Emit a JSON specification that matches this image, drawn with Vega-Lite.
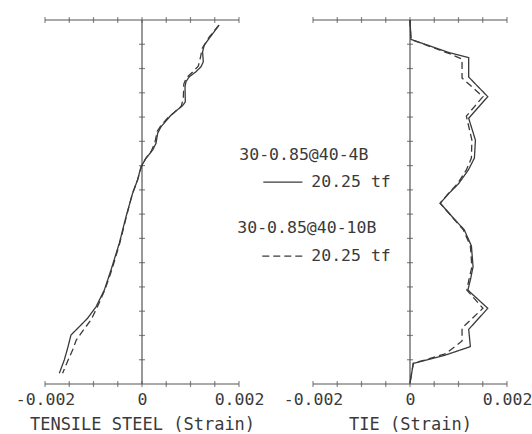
{
  "$schema": "https://vega.github.io/schema/vega-lite/v6.json",
  "padding": {"left": 15, "top": 17, "right": 5, "bottom": 5},
  "spacing": 74,
  "bounds": "flush",
  "config": {
    "view": {"stroke": null},
    "font": "DejaVu Sans Mono",
    "scale": {"continuousPadding": 0},
    "axis": {
      "domain": false, "ticks": false, "grid": false, "labelFlush": false,
      "labelFont": "DejaVu Sans Mono", "labelFontSize": 16.5, "labelColor": "#3a3a3a",
      "labelPadding": 7,
      "titleFont": "DejaVu Sans Mono", "titleFontSize": 17, "titleFontWeight": "normal", "titleColor": "#3a3a3a",
      "titlePadding": 9
    }
  },
  "datasets": {
    "one": [{}],
    "frame": [
      {"x": -0.002, "x2": 0.002, "y": 0, "y2": 0},
      {"x": -0.002, "x2": 0.002, "y": 15, "y2": 15},
      {"x": 0, "x2": 0, "y": 0, "y2": 15}
    ],
    "xticks": [
      {"x": -0.002, "y": 0}, {"x": -0.0015, "y": 0}, {"x": -0.001, "y": 0}, {"x": -0.0005, "y": 0}, {"x": 0, "y": 0},
      {"x": 0.0005, "y": 0}, {"x": 0.001, "y": 0}, {"x": 0.0015, "y": 0}, {"x": 0.002, "y": 0},
      {"x": -0.002, "y": 15}, {"x": -0.0015, "y": 15}, {"x": -0.001, "y": 15}, {"x": -0.0005, "y": 15}, {"x": 0, "y": 15},
      {"x": 0.0005, "y": 15}, {"x": 0.001, "y": 15}, {"x": 0.0015, "y": 15}, {"x": 0.002, "y": 15}
    ],
    "yticks": [
      {"x": 0, "y": 1}, {"x": 0, "y": 2}, {"x": 0, "y": 3}, {"x": 0, "y": 4}, {"x": 0, "y": 5},
      {"x": 0, "y": 6}, {"x": 0, "y": 7}, {"x": 0, "y": 8}, {"x": 0, "y": 9}, {"x": 0, "y": 10},
      {"x": 0, "y": 11}, {"x": 0, "y": 12}, {"x": 0, "y": 13}, {"x": 0, "y": 14}
    ],
    "steel": [
      {"series": "4B", "i": 1, "strain": 0.001588, "pos": 14.79},
      {"series": "4B", "i": 2, "strain": 0.001285, "pos": 13.97},
      {"series": "4B", "i": 3, "strain": 0.001249, "pos": 13.69},
      {"series": "4B", "i": 4, "strain": 0.001264, "pos": 13.28},
      {"series": "4B", "i": 5, "strain": 0.001216, "pos": 13.07},
      {"series": "4B", "i": 6, "strain": 0.001113, "pos": 12.87},
      {"series": "4B", "i": 7, "strain": 0.000975, "pos": 12.66},
      {"series": "4B", "i": 8, "strain": 0.000907, "pos": 12.46},
      {"series": "4B", "i": 9, "strain": 0.000887, "pos": 12.25},
      {"series": "4B", "i": 10, "strain": 0.000893, "pos": 11.63},
      {"series": "4B", "i": 11, "strain": 0.000837, "pos": 11.47},
      {"series": "4B", "i": 12, "strain": 0.000701, "pos": 11.25},
      {"series": "4B", "i": 13, "strain": 0.000598, "pos": 11.08},
      {"series": "4B", "i": 14, "strain": 0.000495, "pos": 10.84},
      {"series": "4B", "i": 15, "strain": 0.000392, "pos": 10.60},
      {"series": "4B", "i": 16, "strain": 0.000322, "pos": 10.33},
      {"series": "4B", "i": 17, "strain": 0.000289, "pos": 9.92},
      {"series": "4B", "i": 18, "strain": 0.000219, "pos": 9.64},
      {"series": "4B", "i": 19, "strain": 0.000082, "pos": 9.30},
      {"series": "4B", "i": 20, "strain": -0.000021, "pos": 8.95},
      {"series": "4B", "i": 21, "strain": -0.000091, "pos": 8.41},
      {"series": "4B", "i": 22, "strain": -0.000194, "pos": 7.86},
      {"series": "4B", "i": 23, "strain": -0.000330, "pos": 6.89},
      {"series": "4B", "i": 24, "strain": -0.000468, "pos": 5.80},
      {"series": "4B", "i": 25, "strain": -0.000639, "pos": 4.70},
      {"series": "4B", "i": 26, "strain": -0.000777, "pos": 3.87},
      {"series": "4B", "i": 27, "strain": -0.000948, "pos": 3.18},
      {"series": "4B", "i": 28, "strain": -0.001122, "pos": 2.71},
      {"series": "4B", "i": 29, "strain": -0.001293, "pos": 2.36},
      {"series": "4B", "i": 30, "strain": -0.001464, "pos": 2.02},
      {"series": "4B", "i": 31, "strain": -0.001534, "pos": 1.47},
      {"series": "4B", "i": 32, "strain": -0.001602, "pos": 0.99},
      {"series": "4B", "i": 33, "strain": -0.001705, "pos": 0.44},
      {"series": "10B", "i": 1, "strain": 0.001588, "pos": 14.79},
      {"series": "10B", "i": 2, "strain": 0.001388, "pos": 14.30},
      {"series": "10B", "i": 3, "strain": 0.001243, "pos": 13.84},
      {"series": "10B", "i": 4, "strain": 0.001202, "pos": 13.43},
      {"series": "10B", "i": 5, "strain": 0.001161, "pos": 13.10},
      {"series": "10B", "i": 6, "strain": 0.001043, "pos": 12.86},
      {"series": "10B", "i": 7, "strain": 0.000913, "pos": 12.61},
      {"series": "10B", "i": 8, "strain": 0.000862, "pos": 12.36},
      {"series": "10B", "i": 9, "strain": 0.000852, "pos": 11.78},
      {"series": "10B", "i": 10, "strain": 0.000810, "pos": 11.45},
      {"series": "10B", "i": 11, "strain": 0.000687, "pos": 11.23},
      {"series": "10B", "i": 12, "strain": 0.000528, "pos": 10.96},
      {"series": "10B", "i": 13, "strain": 0.000398, "pos": 10.67},
      {"series": "10B", "i": 14, "strain": 0.000315, "pos": 10.42},
      {"series": "10B", "i": 15, "strain": 0.000264, "pos": 9.93},
      {"series": "10B", "i": 16, "strain": 0.000192, "pos": 9.60},
      {"series": "10B", "i": 17, "strain": 0.000068, "pos": 9.27},
      {"series": "10B", "i": 18, "strain": -0.000014, "pos": 8.95},
      {"series": "10B", "i": 19, "strain": -0.000091, "pos": 8.41},
      {"series": "10B", "i": 20, "strain": -0.000200, "pos": 7.83},
      {"series": "10B", "i": 21, "strain": -0.000324, "pos": 6.88},
      {"series": "10B", "i": 22, "strain": -0.000458, "pos": 5.81},
      {"series": "10B", "i": 23, "strain": -0.000623, "pos": 4.70},
      {"series": "10B", "i": 24, "strain": -0.000767, "pos": 3.87},
      {"series": "10B", "i": 25, "strain": -0.000922, "pos": 3.17},
      {"series": "10B", "i": 26, "strain": -0.001052, "pos": 2.64},
      {"series": "10B", "i": 27, "strain": -0.001210, "pos": 2.22},
      {"series": "10B", "i": 28, "strain": -0.001355, "pos": 1.81},
      {"series": "10B", "i": 29, "strain": -0.001431, "pos": 1.40},
      {"series": "10B", "i": 30, "strain": -0.001540, "pos": 0.91},
      {"series": "10B", "i": 31, "strain": -0.001637, "pos": 0.44}
    ],
    "tie": [
      {"series": "4B", "i": 1, "strain": 0.0, "pos": 15.0},
      {"series": "4B", "i": 2, "strain": 0.00002, "pos": 14.20},
      {"series": "4B", "i": 3, "strain": 0.000830, "pos": 13.64},
      {"series": "4B", "i": 4, "strain": 0.001210, "pos": 13.45},
      {"series": "4B", "i": 5, "strain": 0.001210, "pos": 12.65},
      {"series": "4B", "i": 6, "strain": 0.001604, "pos": 11.84},
      {"series": "4B", "i": 7, "strain": 0.001210, "pos": 10.95},
      {"series": "4B", "i": 8, "strain": 0.001349, "pos": 10.05},
      {"series": "4B", "i": 9, "strain": 0.001328, "pos": 9.31},
      {"series": "4B", "i": 10, "strain": 0.001203, "pos": 8.82},
      {"series": "4B", "i": 11, "strain": 0.000996, "pos": 8.24},
      {"series": "4B", "i": 12, "strain": 0.000809, "pos": 7.87},
      {"series": "4B", "i": 13, "strain": 0.000622, "pos": 7.45},
      {"series": "4B", "i": 14, "strain": 0.000898, "pos": 6.83},
      {"series": "4B", "i": 15, "strain": 0.001120, "pos": 6.35},
      {"series": "4B", "i": 16, "strain": 0.001266, "pos": 5.69},
      {"series": "4B", "i": 17, "strain": 0.001300, "pos": 4.83},
      {"series": "4B", "i": 18, "strain": 0.001245, "pos": 4.29},
      {"series": "4B", "i": 19, "strain": 0.001193, "pos": 3.87},
      {"series": "4B", "i": 20, "strain": 0.001604, "pos": 3.12},
      {"series": "4B", "i": 21, "strain": 0.001210, "pos": 2.25},
      {"series": "4B", "i": 22, "strain": 0.001245, "pos": 1.54},
      {"series": "4B", "i": 23, "strain": 0.000726, "pos": 1.19},
      {"series": "4B", "i": 24, "strain": 0.000068, "pos": 0.85},
      {"series": "4B", "i": 25, "strain": 0.0, "pos": 0.04},
      {"series": "10B", "i": 1, "strain": 0.0, "pos": 15.0},
      {"series": "10B", "i": 2, "strain": 0.00002, "pos": 14.20},
      {"series": "10B", "i": 3, "strain": 0.000830, "pos": 13.60},
      {"series": "10B", "i": 4, "strain": 0.001073, "pos": 13.39},
      {"series": "10B", "i": 5, "strain": 0.001073, "pos": 12.61},
      {"series": "10B", "i": 6, "strain": 0.001504, "pos": 11.84},
      {"series": "10B", "i": 7, "strain": 0.001162, "pos": 11.04},
      {"series": "10B", "i": 8, "strain": 0.001276, "pos": 10.05},
      {"series": "10B", "i": 9, "strain": 0.001266, "pos": 9.31},
      {"series": "10B", "i": 10, "strain": 0.001162, "pos": 8.82},
      {"series": "10B", "i": 11, "strain": 0.000975, "pos": 8.24},
      {"series": "10B", "i": 12, "strain": 0.000799, "pos": 7.87},
      {"series": "10B", "i": 13, "strain": 0.000622, "pos": 7.45},
      {"series": "10B", "i": 14, "strain": 0.000892, "pos": 6.83},
      {"series": "10B", "i": 15, "strain": 0.001100, "pos": 6.35},
      {"series": "10B", "i": 16, "strain": 0.001245, "pos": 5.69},
      {"series": "10B", "i": 17, "strain": 0.001276, "pos": 4.83},
      {"series": "10B", "i": 18, "strain": 0.001214, "pos": 4.29},
      {"series": "10B", "i": 19, "strain": 0.001172, "pos": 3.87},
      {"series": "10B", "i": 20, "strain": 0.001504, "pos": 3.12},
      {"series": "10B", "i": 21, "strain": 0.001073, "pos": 2.31},
      {"series": "10B", "i": 22, "strain": 0.001073, "pos": 1.77},
      {"series": "10B", "i": 23, "strain": 0.000726, "pos": 1.24},
      {"series": "10B", "i": 24, "strain": 0.000068, "pos": 0.85},
      {"series": "10B", "i": 25, "strain": 0.0, "pos": 0.04}
    ]
  },
  "hconcat": [
    {
      "width": 194,
      "height": 364,
      "layer": [
        {
          "data": {"name": "frame"},
          "mark": {"type": "rule", "color": "#555", "strokeWidth": 1.2},
          "encoding": {
            "x": {"field": "x", "type": "quantitative", "scale": {"domain": [-0.002, 0.002], "nice": false, "zero": false, "padding": 0},
              "axis": {"values": [-0.002, 0, 0.002], "labelExpr": "replace(format(datum.value, '.3~f'), '\u2212', '-')", "title": "TENSILE STEEL (Strain)"}},
            "x2": {"field": "x2"},
            "y": {"field": "y", "type": "quantitative", "scale": {"domain": [0, 15], "nice": false, "padding": 0}, "axis": null},
            "y2": {"field": "y2"}
          }
        },
        {
          "data": {"name": "xticks"},
          "mark": {"type": "tick", "orient": "vertical", "size": 6, "thickness": 1.2, "color": "#555"},
          "encoding": {
            "x": {"field": "x", "type": "quantitative"},
            "y": {"field": "y", "type": "quantitative"}
          }
        },
        {
          "data": {"name": "yticks"},
          "mark": {"type": "tick", "orient": "horizontal", "size": 6, "thickness": 1.2, "color": "#555"},
          "encoding": {
            "x": {"field": "x", "type": "quantitative"},
            "y": {"field": "y", "type": "quantitative"}
          }
        },
        {
          "data": {"name": "steel"},
          "mark": {"type": "line", "color": "#3a3a3a", "strokeWidth": 1.3},
          "encoding": {
            "x": {"field": "strain", "type": "quantitative"},
            "y": {"field": "pos", "type": "quantitative"},
            "detail": {"field": "series"},
            "order": {"field": "i", "type": "quantitative"},
            "strokeDash": {"field": "series", "type": "nominal", "scale": {"domain": ["4B", "10B"], "range": [[1, 0], [7, 4]]}, "legend": null}
          }
        },
        {
          "data": {"name": "one"},
          "mark": {"type": "text", "text": "30-0.85@40-4B", "align": "left", "baseline": "middle", "font": "DejaVu Sans Mono", "fontSize": 16.5, "color": "#3a3a3a"},
          "encoding": {"x": {"datum": 0.002006}, "y": {"datum": 9.44}}
        },
        {
          "data": {"name": "one"},
          "mark": {"type": "rule", "color": "#3a3a3a", "strokeWidth": 1.3},
          "encoding": {"x": {"datum": 0.002501}, "x2": {"datum": 0.003307}, "y": {"datum": 8.32}}
        },
        {
          "data": {"name": "one"},
          "mark": {"type": "text", "text": "20.25 tf", "align": "left", "baseline": "middle", "font": "DejaVu Sans Mono", "fontSize": 16.5, "color": "#3a3a3a"},
          "encoding": {"x": {"datum": 0.003491}, "y": {"datum": 8.32}}
        },
        {
          "data": {"name": "one"},
          "mark": {"type": "text", "text": "30-0.85@40-10B", "align": "left", "baseline": "middle", "font": "DejaVu Sans Mono", "fontSize": 16.5, "color": "#3a3a3a"},
          "encoding": {"x": {"datum": 0.001965}, "y": {"datum": 6.43}}
        },
        {
          "data": {"name": "one"},
          "mark": {"type": "rule", "color": "#3a3a3a", "strokeWidth": 1.3, "strokeDash": [7, 4]},
          "encoding": {"x": {"datum": 0.00248}, "x2": {"datum": 0.003307}, "y": {"datum": 5.27}}
        },
        {
          "data": {"name": "one"},
          "mark": {"type": "text", "text": "20.25 tf", "align": "left", "baseline": "middle", "font": "DejaVu Sans Mono", "fontSize": 16.5, "color": "#3a3a3a"},
          "encoding": {"x": {"datum": 0.003491}, "y": {"datum": 5.27}}
        }
      ]
    },
    {
      "width": 194,
      "height": 364,
      "layer": [
        {
          "data": {"name": "frame"},
          "mark": {"type": "rule", "color": "#555", "strokeWidth": 1.2},
          "encoding": {
            "x": {"field": "x", "type": "quantitative", "scale": {"domain": [-0.002, 0.002], "nice": false, "zero": false, "padding": 0},
              "axis": {"values": [-0.002, 0, 0.002], "labelExpr": "replace(format(datum.value, '.3~f'), '\u2212', '-')", "title": "TIE (Strain)"}},
            "x2": {"field": "x2"},
            "y": {"field": "y", "type": "quantitative", "scale": {"domain": [0, 15], "nice": false, "padding": 0}, "axis": null},
            "y2": {"field": "y2"}
          }
        },
        {
          "data": {"name": "xticks"},
          "mark": {"type": "tick", "orient": "vertical", "size": 6, "thickness": 1.2, "color": "#555"},
          "encoding": {
            "x": {"field": "x", "type": "quantitative"},
            "y": {"field": "y", "type": "quantitative"}
          }
        },
        {
          "data": {"name": "yticks"},
          "mark": {"type": "tick", "orient": "horizontal", "size": 6, "thickness": 1.2, "color": "#555"},
          "encoding": {
            "x": {"field": "x", "type": "quantitative"},
            "y": {"field": "y", "type": "quantitative"}
          }
        },
        {
          "data": {"name": "tie"},
          "mark": {"type": "line", "color": "#3a3a3a", "strokeWidth": 1.3},
          "encoding": {
            "x": {"field": "strain", "type": "quantitative"},
            "y": {"field": "pos", "type": "quantitative"},
            "detail": {"field": "series"},
            "order": {"field": "i", "type": "quantitative"},
            "strokeDash": {"field": "series", "type": "nominal", "scale": {"domain": ["4B", "10B"], "range": [[1, 0], [7, 4]]}, "legend": null}
          }
        }
      ]
    }
  ]
}
